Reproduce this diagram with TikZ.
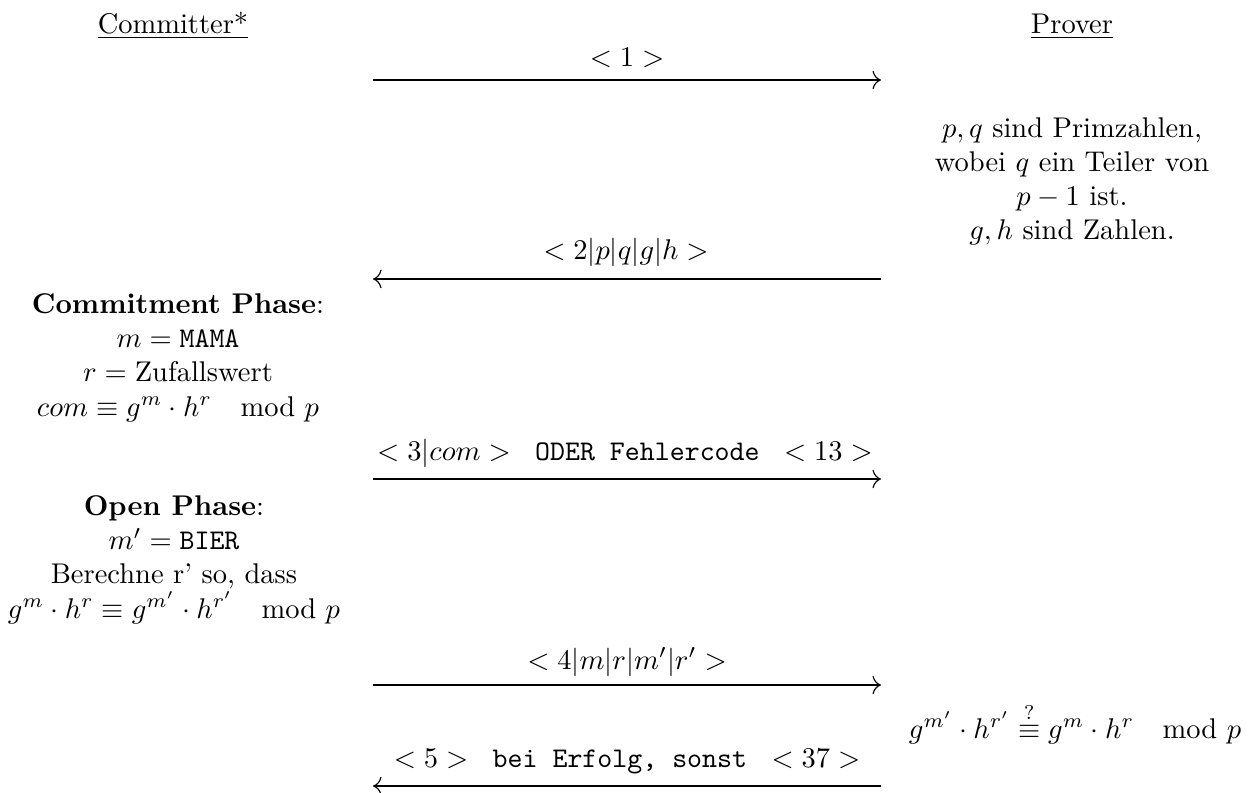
\documentclass[tikz,border=0pt]{standalone}
\usepackage{amsmath}
\usetikzlibrary{arrows.meta}
\newcommand\mymod{\mkern18mu\mathrm{mod}\,\,}
\begin{document}
\begin{tikzpicture}[x=0.350877pt, y=-0.350877pt,
  lbl/.style={anchor=base, inner sep=0pt},
  blk/.style={anchor=north, align=center, inner sep=0pt},
  msg/.style={-{To[length=3pt,width=6.5pt]}, line width=0.4pt}]
\useasboundingbox (0,0) rectangle (1258,792);
% headings
\node[lbl] (committer) at (173,33) {\underline{Committer*}};
\node[lbl] (prover) at (1072,33) {\underline{Prover}};
% message 1
\coordinate (a1l) at (373,80);
\coordinate (a1r) at (881,80);
\node[lbl] (m1) at (627,66) {$<1>$};
\draw[msg] (a1l) -- (a1r);
% prover info
\node[blk] (pinfo) at (1072,117) {$p,q$ sind Primzahlen,\\ wobei $q$ ein Teiler von\\ $p-1$ ist.\\ $g,h$ sind Zahlen.};
% message 2
\coordinate (a2l) at (373,279);
\coordinate (a2r) at (881,279);
\node[lbl] (m2) at (626,259) {$<2|p|q|g|h>$};
\draw[msg] (a2r) -- (a2l);
% commitment phase
\node[blk] (commit) at (178,293) {\textbf{Commitment Phase}:\\ $m=\texttt{MAMA}$\\ $r=\text{Zufallswert}$\\ $com\equiv g^m\cdot h^r\mymod p$};
% message 3
\coordinate (a3l) at (373,479);
\coordinate (a3r) at (881,479);
\node[lbl] (m3) at (625,460) {$<3|com>$ \texttt{ ODER Fehlercode } $<13>$};
\draw[msg] (a3l) -- (a3r);
% open phase
\node[blk] (open) at (174,495) {\textbf{Open Phase}:\\ $m'=\texttt{BIER}$\\ Berechne r' so, dass\\ $g^m\cdot h^r\equiv g^{m'}\cdot h^{r'}\mymod p$};
% message 4
\coordinate (a4l) at (373,685);
\coordinate (a4r) at (881,685);
\node[lbl] (m4) at (627,669) {$<4|m|r|m'|r'>$};
\draw[msg] (a4l) -- (a4r);
% verification
\node[lbl] (check) at (1075,738) {$g^{m'}\cdot h^{r'}\stackrel{?}{\equiv} g^m\cdot h^r\mymod p$};
% message 5
\coordinate (a5l) at (373,786);
\coordinate (a5r) at (881,786);
\node[lbl] (m5) at (627,767) {$<5>$ \texttt{ bei Erfolg, sonst } $<37>$};
\draw[msg] (a5r) -- (a5l);
\end{tikzpicture}
\end{document}
